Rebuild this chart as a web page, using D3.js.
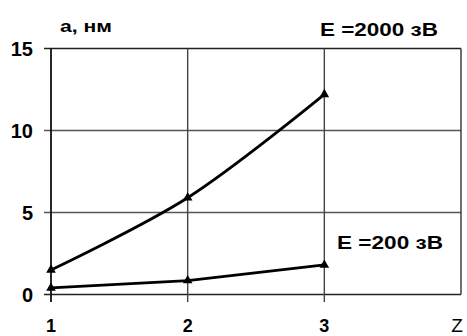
<!DOCTYPE html>
<html><head><meta charset="utf-8">
<script src="https://cdn.jsdelivr.net/npm/d3@7"></script>
<style>body{margin:0;background:#fff}svg{display:block}</style>
</head><body>
<svg id="c" width="467" height="336"></svg>
<script>
const zValues = [1, 2, 3];
const seriesHigh = [1.5, 5.9, 12.2];   // E = 2000 эВ
const seriesLow = [0.4, 0.85, 1.8];    // E = 200 эВ
const yTicks = [0, 5, 10, 15];
const xTicks = [1, 2, 3];
const labelHigh = "E =2000  зВ";
const labelLow = "E =200  зВ";
const yTitle = "a, нм";
const xTitle = "Z";

const svg = d3.select("#c");
const x = d3.scaleLinear().domain([1, 4]).range([51, 461]);
const y = d3.scaleLinear().domain([0, 15]).range([294.5, 48.5]);
const font = "'Liberation Sans', Arial, sans-serif";

// horizontal grid lines (with left ticks)
svg.append("g").selectAll("line").data(yTicks).join("line")
  .attr("x1", 44).attr("x2", x(4))
  .attr("y1", d => y(d)).attr("y2", d => y(d))
  .attr("stroke", d => (d === 0 || d === 15) ? "#222" : "#555")
  .attr("stroke-width", d => (d === 0 || d === 15) ? 1.6 : 1.3);
// vertical grid lines (with bottom ticks)
svg.append("g").selectAll("line").data(xTicks).join("line")
  .attr("x1", d => x(d)).attr("x2", d => x(d))
  .attr("y1", y(15)).attr("y2", 302)
  .attr("stroke", d => d === 1 ? "#111" : "#444")
  .attr("stroke-width", d => d === 1 ? 1.8 : 1.4);
// right border
svg.append("line").attr("x1", x(4)).attr("x2", x(4)).attr("y1", y(15)).attr("y2", y(0))
  .attr("stroke", "#333").attr("stroke-width", 1.4);

// y tick labels
svg.append("g").selectAll("text").data(yTicks).join("text")
  .attr("x", 33).attr("y", d => y(d)).attr("dy", "0.37em")
  .attr("text-anchor", "end").attr("font-family", font).attr("font-weight", "bold")
  .attr("font-size", 20).text(d => d);
// x tick labels
svg.append("g").selectAll("text").data(xTicks).join("text")
  .attr("x", d => x(d)).attr("y", 332)
  .attr("text-anchor", "middle").attr("font-family", font).attr("font-weight", "bold")
  .attr("font-size", 18).text(d => d);
svg.append("text").attr("x", 457).attr("y", 332).attr("text-anchor", "middle")
  .attr("font-family", font).attr("font-size", 19).text(xTitle);

svg.append("text").attr("x", 60).attr("y", 32).attr("font-family", font)
  .attr("font-weight", "bold").attr("font-size", 17)
  .attr("textLength", 52).attr("lengthAdjust", "spacingAndGlyphs").text(yTitle);
svg.append("text").attr("x", 320).attr("y", 36).attr("font-family", font)
  .attr("font-weight", "bold").attr("font-size", 19)
  .attr("textLength", 118).attr("lengthAdjust", "spacingAndGlyphs").text(labelHigh);
svg.append("text").attr("x", 337).attr("y", 249).attr("font-family", font)
  .attr("font-weight", "bold").attr("font-size", 19)
  .attr("textLength", 106).attr("lengthAdjust", "spacingAndGlyphs").text(labelLow);

// lines
const lineHigh = d3.line().x((d, i) => x(zValues[i])).y(d => y(d)).curve(d3.curveCatmullRom);
const lineLow = d3.line().x((d, i) => x(zValues[i])).y(d => y(d));
svg.append("path").attr("d", lineHigh(seriesHigh)).attr("fill", "none")
  .attr("stroke", "#000").attr("stroke-width", 2.8);
svg.append("path").attr("d", lineLow(seriesLow)).attr("fill", "none")
  .attr("stroke", "#000").attr("stroke-width", 2.8);

const tri = d3.symbol().type(d3.symbolTriangle).size(40);
[seriesHigh, seriesLow].forEach(s => {
  svg.append("g").selectAll("path").data(s).join("path")
    .attr("d", tri).attr("transform", (d, i) => `translate(${x(zValues[i])},${y(d)})`)
    .attr("fill", "#000");
});
</script>
</body></html>
